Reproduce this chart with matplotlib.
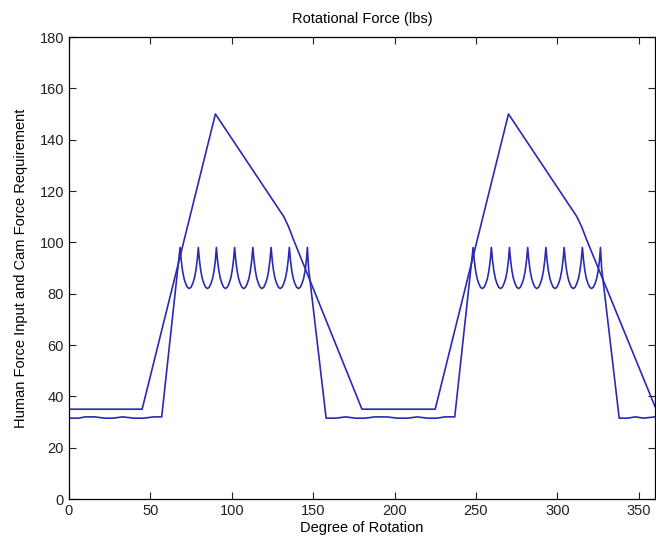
import matplotlib

matplotlib.use("Agg")
import matplotlib.pyplot as plt
import numpy as np

# Human force input (piecewise linear)
human_deg = [0, 45, 90, 132, 135, 138, 180, 225, 270, 312, 315, 318, 360]
human_lbs = [35, 35, 150, 110, 106, 101, 35, 35, 150, 110, 106, 101, 36]

# Cam force requirement: flat parts, ramps and cusped arches
cam_flat1_deg = [0, 6, 10, 16, 22, 27, 33, 40, 46, 52, 57]
cam_flat1_lbs = [31.5, 31.5, 32, 32, 31.5, 31.5, 32, 31.5, 31.5, 32, 32]
cam_flat2_deg = [158, 164, 170, 176, 182, 188, 195, 202, 208, 214, 220, 226, 231, 237]
cam_flat2_lbs = [31.5, 31.5, 32, 31.5, 31.5, 32, 32, 31.5, 31.5, 32, 31.5, 31.5, 32, 32]
cam_flat3_deg = [338, 343, 348, 353, 360]
cam_flat3_lbs = [31.5, 31.5, 32, 31.5, 32]

peak_deg = [68.3, 79.5, 90.6, 101.8, 113.0, 124.2, 135.4, 146.5]
peak_deg_2 = [248.3, 259.5, 270.6, 281.8, 293.0, 304.2, 315.4, 326.5]
arch_offset = [0.0, 0.7, 1.5, 2.4, 3.4, 4.5, 5.6, 6.7, 7.8, 8.8, 9.7, 10.5]
arch_lbs = [98, 93, 89, 86, 84, 82.5, 82, 82.5, 84, 86, 89, 93]


def cam_cycle(flat_deg, flat_lbs, peaks, drop_deg, drop_lbs):
    xs = list(flat_deg)
    ys = list(flat_lbs)
    for p in peaks[:-1]:
        xs += [p + o for o in arch_offset]
        ys += arch_lbs
    xs += [peaks[-1], peaks[-1] + 0.7]
    ys += [98, 90]
    xs.append(drop_deg)
    ys.append(drop_lbs)
    return xs, ys


x1, y1 = cam_cycle(cam_flat1_deg, cam_flat1_lbs, peak_deg, 158, 31.5)
x2, y2 = cam_cycle(cam_flat2_deg[1:], cam_flat2_lbs[1:], peak_deg_2, 338, 31.5)
cam_deg = x1 + x2 + cam_flat3_deg[1:]
cam_lbs = y1 + y2 + cam_flat3_lbs[1:]

plt.rcParams.update({
    "font.family": ["Liberation Sans", "DejaVu Sans"],
    "font.size": 10,
    "axes.linewidth": 0.9,
})

fig = plt.figure(figsize=(6.56, 5.5), dpi=100)
ax = fig.add_axes([0.105, 0.0927, 0.8935, 0.84])
line_col = "#2a2ab4"
ax.plot(human_deg, human_lbs, color=line_col, lw=1.2)
ax.plot(cam_deg, cam_lbs, color=line_col, lw=1.2)

ax.set_xlim(0, 360)
ax.set_ylim(0, 180)
ax.set_xticks(np.arange(0, 360, 50))
ax.set_yticks(np.arange(0, 181, 20))
ax.tick_params(direction="in", top=True, right=True, length=5, width=0.8,
               labelsize=10.5, colors="#222222")
ax.set_title("Rotational Force (lbs)", fontsize=10.5, pad=10)
ax.set_xlabel("Degree of Rotation", fontsize=10.5, labelpad=2)
ax.set_ylabel("Human Force Input and Cam Force Requirement", fontsize=10.5, labelpad=8)

fig.savefig("out.png", dpi=100)
